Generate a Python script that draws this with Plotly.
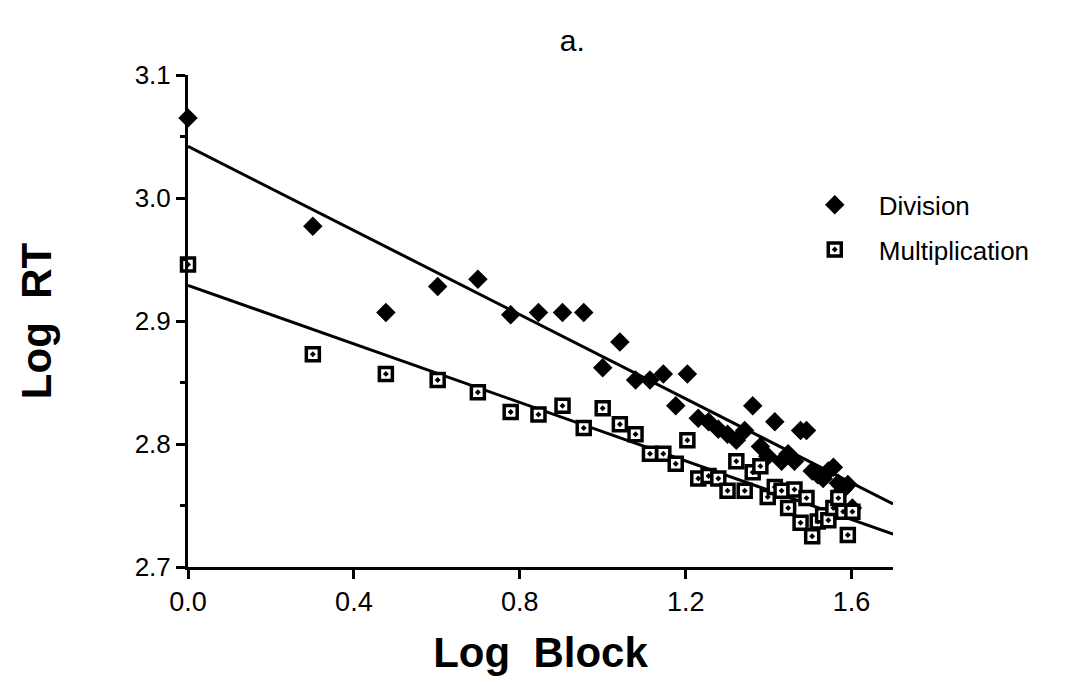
import numpy as np
import plotly.graph_objects as go

blocks = list(range(1, 41))
log_block = [float(np.log10(b)) for b in blocks]

division = [3.065, 2.977, 2.907, 2.928, 2.934, 2.905, 2.907, 2.907, 2.907, 2.862,
            2.883, 2.852, 2.852, 2.857, 2.831, 2.857, 2.821, 2.818, 2.812, 2.808,
            2.803, 2.811, 2.831, 2.798, 2.790, 2.818, 2.786, 2.792, 2.786, 2.811,
            2.811, 2.778, 2.775, 2.772, 2.778, 2.781, 2.768, 2.763, 2.767, 2.748]

multiplication = [2.946, 2.873, 2.857, 2.852, 2.842, 2.826, 2.824, 2.831, 2.813, 2.829,
                  2.816, 2.808, 2.792, 2.792, 2.784, 2.803, 2.772, 2.774, 2.772, 2.762,
                  2.786, 2.762, 2.777, 2.782, 2.757, 2.765, 2.762, 2.748, 2.763, 2.736,
                  2.756, 2.725, 2.737, 2.742, 2.738, 2.748, 2.756, 2.745, 2.726, 2.745]

# regression lines: intercept, slope
division_fit = [3.042, -0.171]
multiplication_fit = [2.929, -0.119]

x_range = [0.0, 1.7]
y_range = [2.7, 3.1]
x_ticks = [0.0, 0.4, 0.8, 1.2, 1.6]
x_ticklabels = ["0.0", "0.4", "0.8", "1.2", "1.6"]
y_ticks = [2.7, 2.8, 2.9, 3.0, 3.1]
y_ticklabels = ["2.7", "2.8", "2.9", "3.0", "3.1"]

fig = go.Figure()

line_x = np.array(x_range)
for fit in (division_fit, multiplication_fit):
    fig.add_trace(go.Scatter(
        x=line_x, y=fit[0] + fit[1] * line_x, mode="lines",
        line=dict(color="black", width=3), showlegend=False, hoverinfo="skip"))

fig.add_trace(go.Scatter(
    x=log_block, y=division, mode="markers", name="Division",
    legendgroup="div",
    marker=dict(symbol="diamond", size=15, color="black",
                line=dict(color="black", width=0)),
    cliponaxis=False))

fig.add_trace(go.Scatter(
    x=log_block, y=multiplication, mode="markers", name="Multiplication",
    legendgroup="mul",
    marker=dict(symbol="square-dot", size=13, color="white",
                line=dict(color="black", width=3.5)),
    cliponaxis=False))

font_family = "Liberation Sans, Arial, Helvetica, sans-serif"

fig.update_layout(
    width=1084, height=682,
    margin=dict(l=188, r=191, t=75, b=115),
    paper_bgcolor="white", plot_bgcolor="white",
    font=dict(family=font_family, color="black"),
    title=dict(text="a.", x=0.545, xref="paper", y=0.94, yref="container",
               xanchor="center", yanchor="middle",
               font=dict(size=30, family=font_family, color="black")),
    showlegend=True,
    legend=dict(x=0.855, y=0.784, xanchor="left", yanchor="top",
                bgcolor="rgba(0,0,0,0)", font=dict(size=26, family=font_family),
                itemsizing="trace", itemwidth=78, tracegroupgap=8),
    xaxis=dict(range=x_range, tickvals=x_ticks, ticktext=x_ticklabels,
               showgrid=False, zeroline=False, showline=True,
               linecolor="black", linewidth=3, ticks="outside", ticklen=9,
               tickwidth=3, tickcolor="black",
               tickfont=dict(size=27, family=font_family),
               title=dict(text="<b>Log  Block</b>", standoff=22,
                          font=dict(size=42, family=font_family))),
    yaxis=dict(range=y_range, tickvals=y_ticks, ticktext=y_ticklabels,
               showgrid=False, zeroline=False, showline=True,
               linecolor="black", linewidth=3, ticks="outside", ticklen=9,
               tickwidth=3, tickcolor="black",
               tickfont=dict(size=26, family=font_family),
               minor=dict(dtick=0.05, tick0=2.7, ticks="outside", ticklen=5,
                          tickwidth=3, tickcolor="black", showgrid=False),
               title=dict(text="<b>Log  RT</b>", standoff=70,
                          font=dict(size=42, family=font_family))),
)

fig.write_html("out.html")
